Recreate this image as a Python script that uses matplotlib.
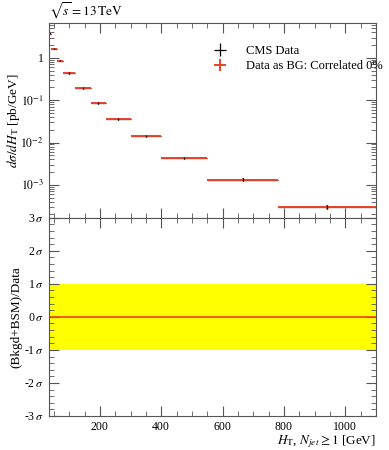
import numpy as np
import matplotlib
matplotlib.use("Agg")
import matplotlib.pyplot as plt
from matplotlib.ticker import MultipleLocator, LogLocator, NullFormatter, FixedLocator

plt.rcParams['font.family'] = ['Liberation Serif', 'DejaVu Serif']
plt.rcParams['mathtext.fontset'] = 'stix'

# bin edges in H_T [GeV] and measured dsigma/dH_T [pb/GeV]
bin_edges = [33, 40, 60, 80, 120, 170, 220, 300, 400, 550, 780, 1100]
xsec = [3.7, 1.63, 0.85, 0.44, 0.195, 0.086, 0.036, 0.0144, 0.0043, 0.00131, 0.0003]
rel_err = [0.03, 0.03, 0.03, 0.04, 0.04, 0.05, 0.05, 0.06, 0.07, 0.08, 0.12]
# ratio panel: pull of (Bkgd+BSM) w.r.t. data, in sigma
pull_x = [33, 1100]
pull_y = [0, 0]
sigma_ticks = [-3, -2, -1, 0, 1, 2, 3]


def main():
    edges = np.array(bin_edges)
    centers = 0.5 * (edges[1:] + edges[:-1])
    half = 0.5 * (edges[1:] - edges[:-1])
    y = np.array(xsec)
    yerr = y * np.array(rel_err)

    fig = plt.figure(figsize=(3.89, 4.5), dpi=100)
    ax1 = fig.add_axes([0.125, 0.516, 0.8415, 0.433])
    ax2 = fig.add_axes([0.125, 0.0756, 0.8415, 0.4404], sharex=ax1)

    # top panel
    ax1.errorbar(centers, y, xerr=half, yerr=yerr, fmt='none', ecolor='black',
                 elinewidth=0.9, label='CMS Data', zorder=2)
    ax1.errorbar(centers, y, xerr=half, yerr=yerr, fmt='none', ecolor='#e8442a',
                 elinewidth=1.4, label='Data as BG: Correlated 0%', zorder=3)
    ax1.errorbar(centers, y, yerr=yerr, fmt='none', ecolor='black',
                 elinewidth=0.9, zorder=4)
    ax1.set_yscale('log')
    ax1.set_xlim(33, 1100)
    ax1.set_ylim(1.66e-4, 6.7)
    ax1.set_yticks([1, 0.1, 0.01, 0.001])
    ax1.set_yticklabels(['1', '$10^{-1}$', '$10^{-2}$', '$10^{-3}$'])
    ax1.yaxis.set_minor_locator(LogLocator(base=10, subs=np.arange(2, 10), numticks=20))
    ax1.yaxis.set_minor_formatter(NullFormatter())
    ax1.set_ylabel(r'$d\sigma/dH_\mathrm{T}$ [pb/GeV]', fontsize=9.5)
    ax1.yaxis.set_label_coords(-0.08, 0.5)
    ax1.tick_params(labelbottom=False)
    ax1.legend(loc='upper right', frameon=False, fontsize=9, handlelength=1.5,
               handletextpad=1.3, borderaxespad=0.0, bbox_to_anchor=(1.035, 0.912),
               labelspacing=0.25)
    ax1.text(0.0, 1.04, r'$\sqrt{s} = 13\,\mathrm{TeV}$', transform=ax1.transAxes,
             fontsize=9.5, ha='left', va='baseline')

    # bottom panel
    ax2.axhspan(-1, 1, color='#ffff00', lw=0, zorder=1)
    ax2.plot(pull_x, pull_y, color='#e8442a', lw=1.2, zorder=2)
    ax2.set_ylim(-3, 3)
    ax2.yaxis.set_major_locator(FixedLocator(sigma_ticks))
    ax2.set_yticklabels([f'{v}$\\,\\sigma$' for v in sigma_ticks])
    ax2.yaxis.set_minor_locator(MultipleLocator(0.2))
    ax2.set_ylabel('(Bkgd+BSM)/Data', fontsize=9.5)
    ax2.yaxis.set_label_coords(-0.08, 0.5)
    ax2.set_xlabel(r'$H_\mathrm{T}$, $N_{jet} \geq 1$ [GeV]', fontsize=9.5,
                   loc='right', labelpad=0)
    ax2.xaxis.set_major_locator(MultipleLocator(200))
    ax2.xaxis.set_minor_locator(MultipleLocator(50))

    for ax in (ax1, ax2):
        ax.tick_params(which='both', direction='in', top=True, right=True,
                       labelsize=8.5, color='#555555')
        ax.tick_params(which='major', length=7)
        ax.tick_params(which='minor', length=3.5)
        for s in ax.spines.values():
            s.set_color('#555555')
            s.set_linewidth(0.8)

    fig.savefig('out.png', dpi=100)


if __name__ == "__main__":
    main()
